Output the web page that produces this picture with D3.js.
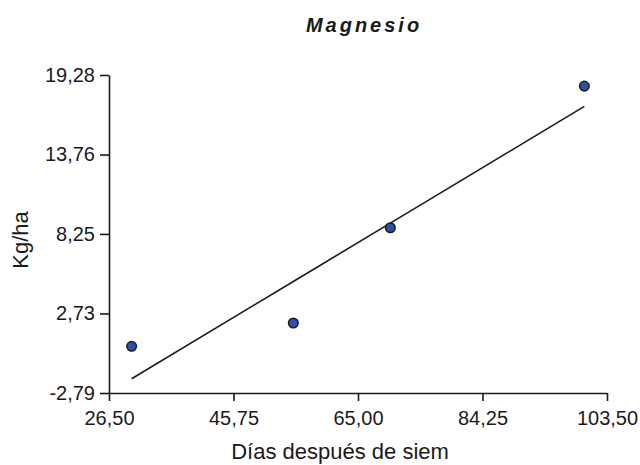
<!DOCTYPE html>
<html>
<head>
<meta charset="utf-8">
<script src="https://cdn.jsdelivr.net/npm/d3@7"></script>
<style>
  html, body { margin: 0; padding: 0; background: #fff; }
  svg { display: block; font-family: "Liberation Sans", Arial, Helvetica, sans-serif; }
</style>
</head>
<body>
<svg id="chart" width="640" height="465"></svg>
<script>
// Magnesium uptake (kg/ha) against days after sowing
const days = [30, 55, 70, 100];
const magnesio = [0.45, 2.07, 8.68, 18.51];
// fitted regression values at the same days
const ajuste = [-1.8, 4.95, 9.0, 17.1];

const xTicks = [26.5, 45.75, 65, 84.25, 103.5];
const yTicks = [-2.79, 2.73, 8.25, 13.76, 19.28];

const titulo = "Magnesio";
const xTitulo = "Días después de siem";
const yTitulo = "Kg/ha";

const svg = d3.select("#chart");
const plot = { left: 109, right: 607, top: 75, bottom: 393 };

const x = d3.scaleLinear().domain([26.5, 103.5]).range([plot.left, plot.right]);
const y = d3.scaleLinear().domain([-2.79, 19.28]).range([plot.bottom, plot.top]);

// decimal comma, plain hyphen for negatives
const fmt = v => v.toFixed(2).replace(".", ",");

// x axis
const gx = svg.append("g")
  .attr("transform", `translate(0,${plot.bottom})`)
  .call(d3.axisBottom(x).tickValues(xTicks).tickFormat(fmt)
    .tickSizeInner(8).tickSizeOuter(0).tickPadding(10));

// y axis
const gy = svg.append("g")
  .attr("transform", `translate(${plot.left},0)`)
  .call(d3.axisLeft(y).tickValues(yTicks).tickFormat(fmt)
    .tickSizeInner(9).tickSizeOuter(0).tickPadding(5));

[gx, gy].forEach(g => {
  g.select(".domain").attr("stroke", "#1a1a1a").attr("stroke-width", 1.6);
  g.selectAll(".tick line").attr("stroke", "#1a1a1a").attr("stroke-width", 1.6);
  g.selectAll(".tick text").attr("fill", "#1a1a1a").style("font-size", "20px");
});

// regression line
const fit = days.map((d, i) => [d, ajuste[i]]);
svg.append("path")
  .datum(fit)
  .attr("fill", "none")
  .attr("stroke", "#1a1a1a")
  .attr("stroke-width", 1.6)
  .attr("d", d3.line().x(d => x(d[0])).y(d => y(d[1])));

// observed points
svg.append("g")
  .selectAll("circle")
  .data(days.map((d, i) => [d, magnesio[i]]))
  .join("circle")
  .attr("cx", d => x(d[0]))
  .attr("cy", d => y(d[1]))
  .attr("r", 4.8)
  .attr("fill", "#2c52a6")
  .attr("stroke", "#1a1a1a")
  .attr("stroke-width", 1.5);

// title
svg.append("text")
  .attr("x", 364).attr("y", 32)
  .attr("text-anchor", "middle")
  .style("font-size", "20px")
  .style("font-weight", "bold")
  .style("font-style", "italic")
  .style("letter-spacing", "3px")
  .attr("fill", "#1a1a1a")
  .text(titulo);

// axis titles
svg.append("text")
  .attr("x", 340).attr("y", 459)
  .attr("text-anchor", "middle")
  .style("font-size", "22px")
  .attr("fill", "#1a1a1a")
  .text(xTitulo);

svg.append("text")
  .attr("transform", `translate(28,240) rotate(-90)`)
  .attr("text-anchor", "middle")
  .style("font-size", "22px")
  .attr("fill", "#1a1a1a")
  .text(yTitulo);
</script>
</body>
</html>
